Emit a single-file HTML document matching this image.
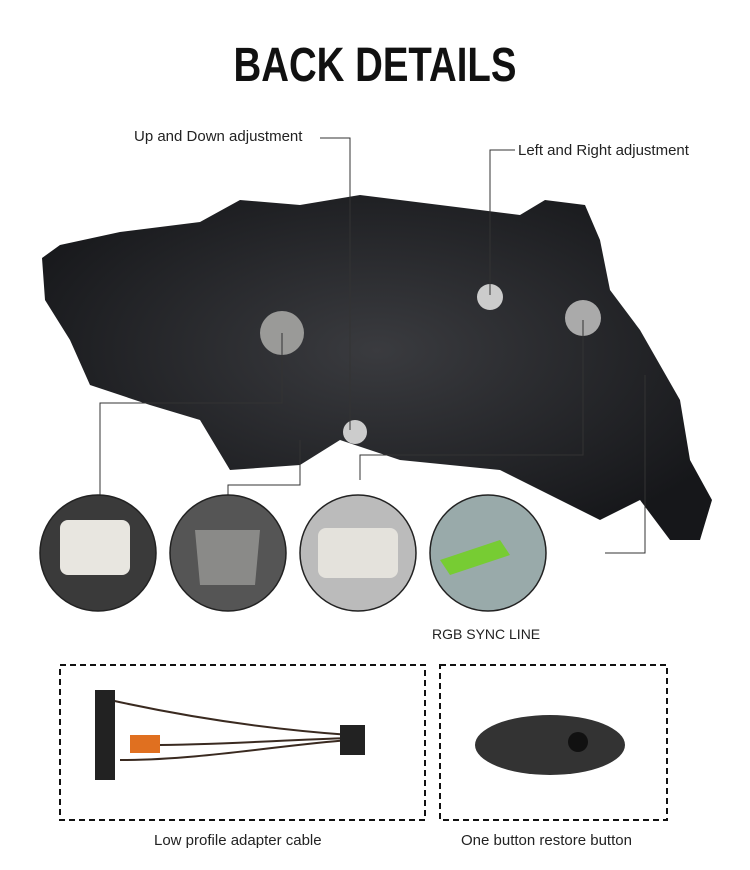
<!DOCTYPE html>
<html><head><meta charset="utf-8"><style>
body{margin:0;width:750px;height:870px;background:#fff;position:relative;overflow:hidden;font-family:"Liberation Sans",sans-serif}
.t{position:absolute;color:#222;font-size:15px;white-space:nowrap}
.title{position:absolute;top:38px;left:0;width:750px;text-align:center;font-size:48px;font-weight:bold;letter-spacing:0px;transform:scaleX(0.8);color:#111}
</style></head><body>
<div class="title">BACK DETAILS</div>
<div class="t" style="left:134px;top:128px">Up and Down adjustment</div>
<div class="t" style="left:518px;top:142px">Left and Right adjustment</div>
<div class="t" style="left:432px;top:626px;font-size:14px">RGB SYNC LINE</div>
<div class="t" style="left:154px;top:832px">Low profile adapter cable</div>
<div class="t" style="left:461px;top:832px">One button restore button</div>
<svg width="750" height="870" style="position:absolute;left:0;top:0">
<defs><radialGradient id="g" cx="50%" cy="45%" r="60%"><stop offset="0" stop-color="#3a3b3f"/><stop offset="1" stop-color="#16171a"/></radialGradient></defs>
<path d="M42,258 L60,245 L120,232 L200,222 L240,200 L300,205 L360,195 L440,205 L520,215 L545,200 L585,205 L600,240 L610,290 L640,330 L680,400 L690,460 L712,500 L700,540 L670,540 L640,500 L600,520 L560,500 L500,470 L400,460 L340,440 L300,465 L230,470 L200,420 L150,405 L90,385 L70,340 L45,300 Z" fill="url(#g)"/>
<circle cx="282" cy="333" r="22" fill="#9a9a98"/><circle cx="490" cy="297" r="13" fill="#ccc"/>
<circle cx="583" cy="318" r="18" fill="#aaa"/><circle cx="355" cy="432" r="12" fill="#ccc"/>
<g fill="none" stroke="#333" stroke-width="1">
<path d="M320,138 H350 V430"/><path d="M515,150 H490 V295"/>
<path d="M282,333 V403 H100 V497"/><path d="M300,440 V485 H228 V497"/>
<path d="M360,480 V455 H583 V320"/><path d="M645,375 V553 H605"/>
</g>
<g stroke="#222" stroke-width="1.5">
<circle cx="98" cy="553" r="58" fill="#3a3a3a"/><circle cx="228" cy="553" r="58" fill="#555"/>
<circle cx="358" cy="553" r="58" fill="#bbb"/><circle cx="488" cy="553" r="58" fill="#9aa"/>
</g>
<rect x="60" y="520" width="70" height="55" rx="8" fill="#e8e6e0"/>
<path d="M195,530 L260,530 L255,585 L200,585 Z" fill="#8a8a88"/>
<rect x="318" y="528" width="80" height="50" rx="8" fill="#e4e2dc"/>
<path d="M440,560 L500,540 L510,555 L450,575 Z" fill="#7c3"/>
<rect x="60" y="665" width="365" height="155" fill="none" stroke="#111" stroke-width="2" stroke-dasharray="6,4"/>
<rect x="440" y="665" width="227" height="155" fill="none" stroke="#111" stroke-width="2" stroke-dasharray="6,4"/>
<g stroke="#3a2a20" stroke-width="2" fill="none"><path d="M110,700 C200,720 280,730 350,735"/><path d="M120,760 C200,760 280,745 350,740"/><path d="M150,745 C220,745 280,740 350,738"/></g>
<rect x="95" y="690" width="20" height="90" fill="#222"/><rect x="130" y="735" width="30" height="18" fill="#e07020"/>
<rect x="340" y="725" width="25" height="30" fill="#222"/>
<ellipse cx="550" cy="745" rx="75" ry="30" fill="#333"/><circle cx="578" cy="742" r="10" fill="#111"/>
</svg>
</body></html>
